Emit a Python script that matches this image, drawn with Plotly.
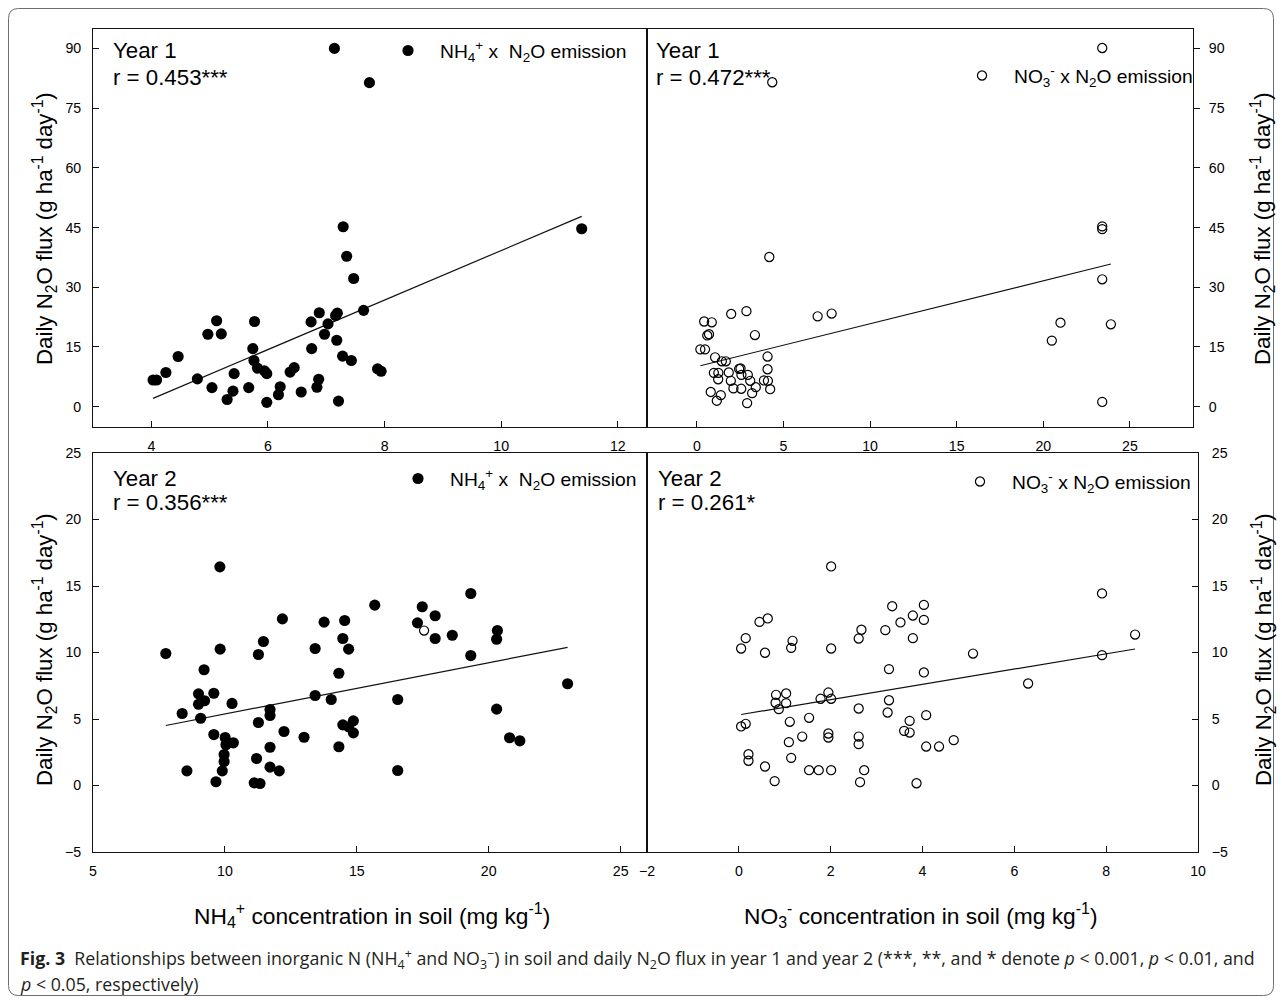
import plotly.graph_objects as go

# ---------------- data ----------------
# Year 1, NH4+ vs daily N2O flux
y1_nh4_conc = [4.03, 4.09, 4.25, 4.46, 4.79, 4.97, 5.12, 5.20, 5.04, 5.30,
               5.40, 5.42, 5.67, 5.74, 5.77, 5.76, 5.82, 5.94, 5.98, 5.98,
               6.18, 6.21, 6.38, 6.45, 6.57, 6.74, 6.75, 6.84, 6.87, 6.88,
               7.03, 6.97, 7.16, 7.19, 7.18, 7.21, 7.28, 7.35, 7.47, 7.43,
               7.64, 7.88, 7.94, 7.29, 7.14, 7.74, 11.38]
y1_nh4_flux = [6.7, 6.7, 8.6, 12.6, 7.0, 18.2, 21.6, 18.3, 4.8, 1.8,
               3.9, 8.3, 4.8, 14.6, 21.4, 11.6, 9.7, 9.0, 8.3, 1.1,
               3.0, 5.0, 8.7, 9.8, 3.7, 21.3, 14.6, 4.9, 6.9, 23.6,
               20.8, 18.2, 22.9, 23.5, 16.7, 1.4, 12.7, 37.8, 32.2, 11.6,
               24.2, 9.5, 8.9, 45.2, 90.0, 81.4, 44.7]

# Year 1, NO3- vs daily N2O flux
y1_no3_conc = [4.18, 1.98, 2.86, 0.42, 0.86, 0.60, 0.70, 3.35, 0.20, 0.47,
               1.05, 1.44, 1.67, 4.08, 4.08, 0.98, 1.24, 1.23, 1.84, 2.44,
               2.52, 2.57, 2.94, 1.96, 3.08, 2.11, 2.56, 3.40, 3.87, 4.10,
               4.23, 3.19, 0.80, 1.38, 1.15, 2.90, 6.97, 7.78, 4.35, 23.4,
               23.4, 23.4, 23.4, 20.99, 20.49, 23.9, 23.4]
y1_no3_flux = [37.6, 23.3, 24.0, 21.4, 21.2, 17.9, 18.2, 18.0, 14.4, 14.4,
               12.4, 11.4, 11.4, 12.6, 9.4, 8.5, 8.5, 6.9, 8.6, 9.5,
               9.6, 8.0, 8.0, 6.5, 6.5, 4.6, 4.5, 4.9, 6.6, 6.5,
               4.4, 3.4, 3.7, 2.9, 1.5, 0.9, 22.7, 23.4, 81.5, 90.1,
               45.3, 44.6, 32.0, 21.1, 16.6, 20.7, 1.2]

# Year 2, NH4+ vs daily N2O flux
y2_nh4_conc = [7.76, 9.81, 9.82, 9.21, 9.00, 9.58, 9.23, 9.00, 8.38, 9.08,
               10.27, 9.58, 10.01, 10.04, 10.32, 9.97, 9.97, 9.90, 8.56, 9.66,
               11.27, 11.46, 12.18, 11.27, 11.71, 11.71, 12.24, 11.71, 11.20, 11.71,
               12.06, 11.11, 11.33, 13.00, 13.42, 13.42, 13.76, 14.03, 14.32, 14.32,
               14.54, 14.47, 14.69, 14.47, 14.69, 14.87, 14.87, 15.68, 16.55, 16.55,
               17.48, 17.30, 17.97, 17.97, 18.62, 19.32, 19.32, 20.33, 20.30, 20.30,
               20.79, 21.18, 22.99]
y2_nh4_flux = [9.92, 16.44, 10.25, 8.70, 6.89, 6.94, 6.37, 6.11, 5.41, 5.06,
               6.17, 3.83, 3.61, 3.06, 3.21, 2.33, 1.80, 1.10, 1.10, 0.28,
               9.85, 10.83, 12.53, 4.74, 5.71, 5.26, 4.06, 2.88, 2.03, 1.38,
               1.10, 0.20, 0.15, 3.63, 10.30, 6.77, 12.28, 6.47, 8.44, 2.91,
               12.41, 11.05, 10.25, 4.56, 4.41, 4.86, 3.96, 13.56, 6.47, 1.13,
               13.44, 12.23, 12.76, 11.05, 11.30, 14.44, 9.77, 11.65, 11.00, 5.74,
               3.59, 3.36, 7.65]
# single open-circle point that appears inside the Year 2 NH4+ panel
y2_nh4_open_conc = [17.55]
y2_nh4_open_flux = [11.65]

# Year 2, NO3- vs daily N2O flux
y2_no3_conc = [2.01, 0.05, 0.15, 0.45, 0.63, 0.57, 1.17, 1.14, 2.01, 2.61,
               2.67, 3.19, 3.34, 3.52, 3.79, 4.03, 4.03, 3.79, 3.27, 4.03,
               0.81, 1.03, 0.80, 1.03, 0.87, 1.78, 1.95, 2.01, 0.05, 0.15,
               1.11, 1.53, 2.61, 3.27, 3.24, 3.72, 3.60, 3.72, 4.08, 4.08,
               1.09, 1.38, 1.95, 1.95, 2.61, 2.61, 0.21, 0.21, 1.14, 0.57,
               1.53, 1.74, 2.01, 2.73, 0.78, 2.64, 3.87, 7.91, 8.63, 7.91,
               5.10, 6.30, 4.36, 4.68]
y2_no3_flux = [16.47, 10.30, 11.08, 12.30, 12.56, 9.98, 10.88, 10.35, 10.30, 11.05,
               11.71, 11.68, 13.48, 12.26, 12.78, 13.58, 12.45, 11.08, 8.75, 8.50,
               6.82, 6.92, 6.22, 6.19, 5.74, 6.52, 6.99, 6.52, 4.44, 4.64,
               4.79, 5.09, 5.79, 6.41, 5.49, 4.86, 4.11, 3.98, 5.29, 2.93,
               3.26, 3.68, 3.91, 3.61, 3.68, 3.11, 2.35, 1.86, 2.08, 1.43,
               1.15, 1.15, 1.15, 1.15, 0.33, 0.25, 0.17, 14.44, 11.35, 9.80,
               9.92, 7.67, 2.93, 3.41]

# regression lines (intercept, slope) as drawn in the reference
fit_y1_nh4 = (-22.97, 6.22)
fit_y1_no3 = (10.06, 1.079)
fit_y2_nh4 = (1.515, 0.386)
fit_y2_no3 = (5.31, 0.574)

r_labels = ["r = 0.453***", "r = 0.472***", "r = 0.356***", "r = 0.261*"]
year_labels = ["Year 1", "Year 1", "Year 2", "Year 2"]

top_y_ticks = [0, 15, 30, 45, 60, 75, 90]
bot_y_ticks = [-5, 0, 5, 10, 15, 20, 25]
x_ticks_tl = [4, 6, 8, 10, 12]
x_ticks_tr = [0, 5, 10, 15, 20, 25]
x_ticks_bl = [5, 10, 15, 20, 25]
x_ticks_br = [-2, 0, 2, 4, 6, 8, 10]

NH4_NAME = "NH<sub>4</sub><sup>+</sup> x  N<sub>2</sub>O emission"
NO3_NAME = "NO<sub>3</sub><sup>-</sup> x N<sub>2</sub>O emission"

# ---------------- layout helpers ----------------
W, H = 1282, 1004
# the photographed page is framed with an 8 px border, so positions are given
# in picture pixels and mapped onto the 1266 x 988 inner area
IW, IH, OFF = 1266, 988, 8
S = W / IW  # size compensation


def px(x):
    return (x - OFF) / IW


def py(y):
    return 1 - (y - OFF) / IH


def fs(v):
    return round(v * S, 2)


FONT = "Liberation Sans, Arial, sans-serif"
INK = "#111111"

fig = go.Figure()


def fit_line(xs, fit):
    a, b = fit
    x0, x1 = min(xs), max(xs)
    return [x0, x1], [a + b * x0, a + b * x1]


filled = dict(symbol="circle", size=fs(11), color="black", line=dict(width=0))
hollow = dict(symbol="circle-open", size=fs(9), color="black",
              line=dict(width=1.2, color="black"))

panels = [
    ("x", "y", y1_nh4_conc, y1_nh4_flux, fit_y1_nh4, filled, NH4_NAME, "legend"),
    ("x2", "y2", y1_no3_conc, y1_no3_flux, fit_y1_no3, hollow, NO3_NAME, "legend2"),
    ("x3", "y3", y2_nh4_conc, y2_nh4_flux, fit_y2_nh4, filled, NH4_NAME, "legend3"),
    ("x4", "y4", y2_no3_conc, y2_no3_flux, fit_y2_no3, hollow, NO3_NAME, "legend4"),
]

for xa, ya, xs, ys, fit, mk, name, lg in panels:
    lx, ly = fit_line(xs, fit)
    fig.add_trace(go.Scatter(x=lx, y=ly, mode="lines", xaxis=xa, yaxis=ya,
                             line=dict(color=INK, width=1.2), showlegend=False,
                             hoverinfo="skip"))
    fig.add_trace(go.Scatter(x=xs, y=ys, mode="markers", xaxis=xa, yaxis=ya,
                             marker=mk, name=name, legend=lg, showlegend=True))

fig.add_trace(go.Scatter(x=y2_nh4_open_conc, y=y2_nh4_open_flux, mode="markers",
                         xaxis="x3", yaxis="y3", marker=hollow, showlegend=False))

# ---------------- axes ----------------
tickfont = dict(family=FONT, size=fs(14), color="black")


def axis(domain, rng, tickvals, anchor, side=None, ticks="inside", standoff=6):
    d = dict(domain=domain, range=rng, tickvals=tickvals, anchor=anchor,
             showline=True, linecolor=INK, linewidth=1, mirror=True,
             ticks=ticks, ticklen=6, tickcolor=INK, tickwidth=1,
             tickfont=tickfont, showgrid=False, zeroline=False,
             ticklabelstandoff=standoff, fixedrange=True)
    if side:
        d["side"] = side
    return d


top_dom = [py(426.6), py(28.5)]
bot_dom = [py(852), py(453)]

fig.update_layout(
    xaxis=axis([px(93), px(647)], [3, 12.5], x_ticks_tl, "y", standoff=6),
    yaxis=axis(top_dom, [-5, 95], top_y_ticks, "x", standoff=8),
    xaxis2=axis([px(647), px(1193)], [-2.88, 28.64], x_ticks_tr, "y2", standoff=6),
    yaxis2=axis(top_dom, [-5, 95], top_y_ticks, "x2", side="right", ticks="outside", standoff=6),
    xaxis3=axis([px(93), px(647)], [5, 26], x_ticks_bl, "y3", standoff=6),
    yaxis3=axis(bot_dom, [-5, 25], bot_y_ticks, "x3", standoff=8),
    xaxis4=axis([px(647), px(1198)], [-2, 10], x_ticks_br, "y4", standoff=6),
    yaxis4=axis(bot_dom, [-5, 25], bot_y_ticks, "x4", side="right", standoff=10),
)

# ---------------- legends ----------------
def legend(mx, my):
    return dict(x=px(mx - 32), y=py(my), xanchor="left", yanchor="middle",
                xref="paper", yref="paper", bgcolor="rgba(0,0,0,0)", borderwidth=0,
                itemwidth=54, font=dict(family=FONT, size=fs(19), color="black"),
                itemclick=False, itemdoubleclick=False)


fig.update_layout(
    legend=legend(408, 51),
    legend2=legend(982, 76),
    legend3=legend(418, 479),
    legend4=legend(980, 482),
)

# ---------------- annotations ----------------
ann = []
label_pos = [(111, 50, 78), (654, 50, 78), (111, 478, 502), (656, 478, 502)]
for (lx, yy, ry), yl, rl in zip(label_pos, year_labels, r_labels):
    ann.append(dict(x=px(lx), y=py(yy), text=yl, xanchor="left", yanchor="middle"))
    ann.append(dict(x=px(lx), y=py(ry), text=rl, xanchor="left", yanchor="middle"))
for a in ann:
    a.update(xref="paper", yref="paper", showarrow=False,
             font=dict(family=FONT, size=fs(22), color="black"))

ytitle = "Daily N<sub>2</sub>O flux (g ha<sup>-1</sup> day<sup>-1</sup>)"
for x_, y_ in [(44, 229), (44, 650), (1262, 229), (1263, 650)]:
    ann.append(dict(x=px(x_), y=py(y_), text=ytitle, textangle=-90, xref="paper",
                    yref="paper", showarrow=False, xanchor="center", yanchor="middle",
                    font=dict(family=FONT, size=fs(22), color="black")))

ann.append(dict(x=px(372), y=py(915),
                text="NH<sub>4</sub><sup>+</sup> concentration in soil (mg kg<sup>-1</sup>)",
                xref="paper", yref="paper", showarrow=False, xanchor="center", yanchor="middle",
                font=dict(family=FONT, size=fs(22.5), color="black")))
ann.append(dict(x=px(921), y=py(915),
                text="NO<sub>3</sub><sup>-</sup> concentration in soil (mg kg<sup>-1</sup>)",
                xref="paper", yref="paper", showarrow=False, xanchor="center", yanchor="middle",
                font=dict(family=FONT, size=fs(22.5), color="black")))

cap1 = ("<b>Fig. 3</b>  Relationships between inorganic N (NH<sub>4</sub><sup>+</sup> and "
        "NO<sub>3</sub><sup>−</sup>) in soil and daily N<sub>2</sub>O flux in year 1 and year 2 "
        "(***, **, and * denote <i>p</i> &lt; 0.001, <i>p</i> &lt; 0.01, and")
cap2 = "<i>p</i> &lt; 0.05, respectively)"
for txt, yy in [(cap1, 959), (cap2, 984)]:
    ann.append(dict(x=px(18), y=py(yy), text=txt, xref="paper", yref="paper",
                    showarrow=False, xanchor="left", yanchor="middle", align="left",
                    font=dict(family="Open Sans, Liberation Sans, sans-serif", size=17.8,
                              color="#231f20")))

# ---------------- outer rounded frame ----------------
x0, y0, x1, y1, r = 8.5, 8.5, 1273.5, 995.5, 10
path = (f"M {px(x0 + r)},{py(y0)} L {px(x1 - r)},{py(y0)} "
        f"Q {px(x1)},{py(y0)} {px(x1)},{py(y0 + r)} "
        f"L {px(x1)},{py(y1 - r)} Q {px(x1)},{py(y1)} {px(x1 - r)},{py(y1)} "
        f"L {px(x0 + r)},{py(y1)} Q {px(x0)},{py(y1)} {px(x0)},{py(y1 - r)} "
        f"L {px(x0)},{py(y0 + r)} Q {px(x0)},{py(y0)} {px(x0 + r)},{py(y0)} Z")

fig.update_layout(
    width=W, height=H,
    margin=dict(l=0, r=0, t=0, b=0),
    paper_bgcolor="white", plot_bgcolor="white",
    annotations=ann,
    shapes=[dict(type="path", path=path, xref="paper", yref="paper",
                 line=dict(color="#6d6e71", width=1), fillcolor="rgba(0,0,0,0)")],
    hovermode=False,
)

fig.write_html(
    "out.html",
    config={"displayModeBar": False},
    post_script=("document.body.style.margin='0';"
                 "document.body.style.overflow='hidden';"
                 "document.documentElement.style.overflow='hidden';"),
)
